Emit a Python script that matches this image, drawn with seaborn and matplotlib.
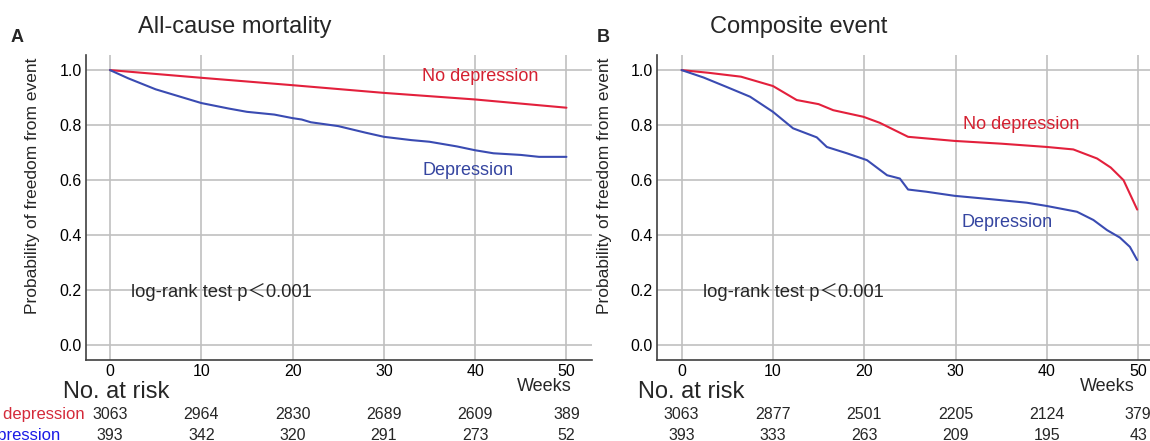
import numpy as np
import pandas as pd
import matplotlib
matplotlib.use("Agg")
import matplotlib.pyplot as plt
import seaborn as sns

# Kaplan-Meier knots (weeks, survival)
a_nodep_t = [0, 10, 20, 30, 40, 50]
a_nodep_s = [1.0, 0.972, 0.945, 0.917, 0.893, 0.863]
a_dep_t = [0, 2, 5, 8, 10, 13, 15, 18, 20, 21, 22, 25, 28, 30, 33, 35, 38, 40, 42, 45, 47, 50]
a_dep_s = [1.0, 0.97, 0.93, 0.9, 0.88, 0.86, 0.848, 0.838, 0.825, 0.82, 0.81, 0.796, 0.772, 0.757, 0.745, 0.739, 0.722, 0.708, 0.697, 0.691, 0.684, 0.684]

b_nodep_t = [0, 3, 6.5, 10, 12.6, 15, 16.6, 19.9, 21.7, 24.8, 29.9, 35, 40, 42.9, 45.5, 47, 48.4, 49.9]
b_nodep_s = [1.0, 0.99, 0.976, 0.942, 0.891, 0.876, 0.854, 0.83, 0.808, 0.757, 0.742, 0.732, 0.72, 0.711, 0.678, 0.645, 0.599, 0.492]
b_dep_t = [0, 2.4, 4.9, 7.5, 10, 12.2, 14.8, 15.9, 18.1, 20.3, 22.5, 23.9, 24.8, 26.8, 29.9, 34.1, 37.8, 40, 43.3, 45.1, 46.6, 48, 49.1, 49.9]
b_dep_s = [1.0, 0.973, 0.939, 0.903, 0.848, 0.788, 0.755, 0.72, 0.697, 0.672, 0.617, 0.605, 0.565, 0.557, 0.542, 0.529, 0.517, 0.505, 0.484, 0.454, 0.417, 0.39, 0.356, 0.308]

weeks = [0, 10, 20, 30, 40, 50]
a_risk_nodep = [3063, 2964, 2830, 2689, 2609, 389]
a_risk_dep = [393, 342, 320, 291, 273, 52]
b_risk_nodep = [3063, 2877, 2501, 2205, 2124, 379]
b_risk_dep = [393, 333, 263, 209, 195, 43]

titles = ["All-cause mortality", "Composite event"]
letters = ["A", "B"]

sns.set_style("white")
plt.rcParams['font.family'] = ['Liberation Sans', 'Noto Sans CJK SC', 'DejaVu Sans']

RED = "#e3203c"
BLUE = "#3a4bb2"

fig = plt.figure(figsize=(11.5, 4.41), dpi=100)
ax_a = fig.add_axes([86 / 1150, 81 / 441, 506 / 1150, 305 / 441])
ax_b = fig.add_axes([657 / 1150, 81 / 441, 493 / 1150, 305 / 441])

panels = [
    (ax_a, a_nodep_t, a_nodep_s, a_dep_t, a_dep_s, a_risk_nodep, a_risk_dep, (-2.63, 52.8)),
    (ax_b, b_nodep_t, b_nodep_s, b_dep_t, b_dep_s, b_risk_nodep, b_risk_dep, (-2.7, 51.3)),
]

for i, (ax, nt, ns, dt, ds, rn, rd, xl) in enumerate(panels):
    df = pd.concat([
        pd.DataFrame({"t": nt, "s": ns, "g": "No depression"}),
        pd.DataFrame({"t": dt, "s": ds, "g": "Depression"}),
    ])
    sns.lineplot(data=df, x="t", y="s", hue="g", palette={"No depression": RED, "Depression": BLUE},
                 sort=False, estimator=None, lw=1.5, legend=False, ax=ax)
    ax.set_xlim(*xl)
    ax.set_ylim(-0.056, 1.055)
    ax.set_xticks(weeks)
    ax.set_yticks([0, 0.2, 0.4, 0.6, 0.8, 1.0])
    ax.set_yticklabels(["0.0", "0.2", "0.4", "0.6", "0.8", "1.0"])
    ax.grid(True, color="#c0c0c0", lw=1.2)
    ax.set_axisbelow(True)
    for s in ["top", "right"]:
        ax.spines[s].set_visible(False)
    for s in ["left", "bottom"]:
        ax.spines[s].set_color("#404040")
        ax.spines[s].set_linewidth(1.2)
    ax.tick_params(length=0, labelsize=11.5, pad=3, colors="black")
    ax.set_xlabel("")
    ax.set_ylabel("Probability of freedom from event", fontsize=12.5)
    ax.yaxis.set_label_coords(-0.091, 0.57)

    ax.text(2.3, 0.19, "log-rank test p＜0.001", fontsize=13.2, va="center", ha="left")

    tr = ax.get_xaxis_transform()
    ax.text(-5.1 if i == 0 else -4.8, -0.105, "No. at risk", fontsize=17, va="center", ha="left",
            transform=tr, clip_on=False)
    ax.text(50.6 if i == 0 else 49.6, -0.088, "Weeks", fontsize=13, va="center", ha="right",
            transform=tr, clip_on=False)
    for w, n1, n2 in zip(weeks, rn, rd):
        ax.text(w, -0.18, str(n1), fontsize=11.5, ha="center", va="center", transform=tr, clip_on=False)
        ax.text(w, -0.247, str(n2), fontsize=11.5, ha="center", va="center", transform=tr, clip_on=False)

    fig.text((235 if i == 0 else 799) / 1150, 1 - 27 / 441, titles[i], fontsize=17, ha="center", va="center")
    fig.text((17 if i == 0 else 603) / 1150, 1 - 37 / 441, letters[i], fontsize=13, fontweight="bold",
             ha="center", va="center")

# curve labels
ax_a.text(34.2, 0.978, "No depression", color="#d42030", fontsize=13, va="center")
ax_a.text(34.2, 0.636, "Depression", color="#3545a0", fontsize=13, va="center")
ax_b.text(30.8, 0.803, "No depression", color="#d42030", fontsize=13, va="center")
ax_b.text(30.7, 0.446, "Depression", color="#3545a0", fontsize=13, va="center")

# row labels of the risk table, left aligned and running off the left edge like the original
tr = ax_a.get_xaxis_transform()
ax_a.text(-14.6, -0.18, "No depression", color="#d42a3a", fontsize=12, ha="left", va="center",
          transform=tr, clip_on=False)
ax_a.text(-14.6, -0.247, "Depression", color="#1a1ae6", fontsize=12, ha="left", va="center",
          transform=tr, clip_on=False)

fig.savefig("out.png", dpi=100)
